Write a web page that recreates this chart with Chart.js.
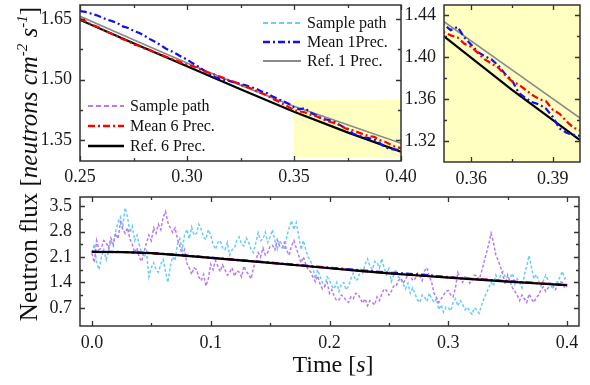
<!DOCTYPE html>
<html><head><meta charset="utf-8">
<script src="https://cdn.jsdelivr.net/npm/chart.js@4.4.1/dist/chart.umd.min.js"></script>
<style>
html,body{margin:0;padding:0;background:#fff;width:590px;height:385px;overflow:hidden;font-family:"Liberation Serif","Times New Roman",serif;color:#111;}
canvas{position:absolute;left:0;top:0;}
.row{position:absolute;height:20px;display:flex;align-items:center;font-size:16px;white-space:nowrap;}
.row svg{margin-right:5px;}
#ytitle{position:absolute;width:340px;height:30px;line-height:30px;left:-141px;top:149px;transform:rotate(-90deg);text-align:center;font-size:25px;white-space:nowrap;}
#ytitle sup{font-size:15px;font-style:italic;vertical-align:10px;line-height:0;}
#xtitle{position:absolute;left:233px;width:200px;top:352px;line-height:24px;text-align:center;font-size:24px;}
</style></head>
<body>
<canvas id="c1" width="590" height="385"></canvas>
<canvas id="c2" width="590" height="385"></canvas>
<canvas id="c3" width="590" height="385"></canvas>

<div class="row" style="left:262px;top:13px"><svg width="40" height="8"><line x1="1" y1="4" x2="39" y2="4" stroke="#6ccbf8" stroke-width="2" stroke-dasharray="5,3"/></svg>Sample path</div>
<div class="row" style="left:262px;top:32px"><svg width="40" height="8"><line x1="1" y1="4" x2="39" y2="4" stroke="#1010f0" stroke-width="2.5" stroke-dasharray="7,3,2,3"/></svg>Mean 1Prec.</div>
<div class="row" style="left:262px;top:51px"><svg width="40" height="8"><line x1="1" y1="4" x2="39" y2="4" stroke="#8a8a8a" stroke-width="2"/></svg>Ref. 1 Prec.</div>

<div class="row" style="left:87px;top:96px"><svg width="38" height="8"><line x1="1" y1="4" x2="37" y2="4" stroke="#b57bf7" stroke-width="2" stroke-dasharray="5,3"/></svg>Sample path</div>
<div class="row" style="left:87px;top:116px"><svg width="38" height="8"><line x1="1" y1="4" x2="37" y2="4" stroke="#ff0000" stroke-width="2.5" stroke-dasharray="7,3,2,3"/></svg>Mean 6 Prec.</div>
<div class="row" style="left:87px;top:136px"><svg width="38" height="8"><line x1="1" y1="4" x2="37" y2="4" stroke="#000" stroke-width="2.5"/></svg>Ref. 6 Prec.</div>

<div id="ytitle">Neutron flux [<i>neutrons cm</i><sup>-2</sup> <i>s</i><sup>-1</sup>]</div>
<div id="xtitle">Time [<i>s</i>]</div>

<script>
// ---------- data ----------
const refT  = [0,0.025,0.05,0.075,0.1,0.125,0.15,0.175,0.2,0.225,0.25,0.275,0.3,0.325,0.35,0.375,0.4];
const ref6  = [2.24,2.235,2.205,2.145,2.075,2.005,1.935,1.865,1.79,1.716,1.648,1.590,1.533,1.476,1.420,1.369,1.321];
const ref1  = [2.245,2.24,2.21,2.151,2.082,2.013,1.944,1.874,1.800,1.727,1.657,1.599,1.541,1.486,1.434,1.388,1.342];

const earlyT = [0,0.025,0.05,0.075,0.1,0.125,0.15,0.175,0.2,0.225];
const mean1Early = [2.245,2.24,2.212,2.153,2.085,2.017,1.948,1.880,1.808,1.738];
const mean6Early = [2.24,2.236,2.204,2.143,2.074,2.006,1.936,1.866,1.792,1.718];

const lateStart = 0.25, lateStep = 0.0025;
const mean6Late = [1.650,1.645,1.637,1.632,1.626,1.619,1.613,1.608,1.600,1.596,
  1.587,1.584,1.577,1.574,1.567,1.563,1.557,1.552,1.547,1.542,
  1.537,1.533,1.529,1.522,1.517,1.513,1.508,1.503,1.497,1.494,
  1.487,1.482,1.478,1.471,1.466,1.461,1.452,1.446,1.439,1.432,
  1.424,1.421,1.419,1.413,1.410,1.404,1.398,1.394,1.390,1.383,
  1.377,1.374,1.369,1.364,1.360,1.358,1.350,1.346,1.339,1.333,1.330];
const mean1Late = [1.670,1.668,1.664,1.660,1.655,1.649,1.645,1.640,1.632,1.628,
  1.621,1.616,1.609,1.601,1.594,1.586,1.577,1.571,1.564,1.556,
  1.550,1.541,1.533,1.524,1.515,1.507,1.503,1.499,1.496,1.493,
  1.489,1.486,1.481,1.477,1.470,1.466,1.458,1.452,1.446,1.440,
  1.431,1.426,1.429,1.419,1.412,1.405,1.401,1.398,1.392,1.384,
  1.378,1.366,1.361,1.357,1.355,1.351,1.343,1.332,1.328,1.326,1.325];

const pathStep = 0.002;
const pathCyan = [
  2.22,2.45,1.94,1.75,2.10,2.30,2.03,2.25,2.55,2.40,2.80,3.05,3.20,2.95,3.45,3.20,2.77,2.95,2.55,2.70,
  2.42,2.20,2.10,2.25,1.55,1.80,1.94,1.75,1.68,1.90,2.03,1.70,1.40,1.85,2.10,2.00,2.45,2.60,2.30,2.70,
  2.86,2.60,2.92,2.70,2.75,3.00,2.86,2.65,2.58,2.85,2.70,2.45,2.31,2.50,2.55,2.35,2.30,2.50,2.15,2.30,
  2.35,2.55,2.65,2.45,2.40,2.62,2.50,2.30,2.22,2.50,2.77,2.55,2.60,2.78,2.50,2.65,2.85,2.55,2.31,2.55,
  2.45,2.30,2.65,2.90,3.10,2.85,3.05,2.70,2.30,2.55,2.31,2.10,2.00,1.80,1.50,1.75,1.57,1.40,1.30,1.55,
  1.45,1.30,1.22,1.40,1.15,1.35,1.40,1.20,1.30,1.50,1.65,1.45,1.50,1.75,1.66,1.90,2.05,1.85,1.75,1.98,
  1.95,1.80,2.05,1.80,1.62,1.78,1.42,1.60,1.75,1.55,1.50,1.35,1.22,1.38,1.10,1.25,1.08,0.92,0.85,1.05,
  1.00,0.88,1.10,0.95,0.85,0.95,0.65,0.78,0.58,0.72,0.70,0.62,0.84,0.95,0.75,0.90,0.80,0.65,0.72,0.60,
  0.52,0.70,0.64,0.55,0.78,0.95,1.10,1.25,1.40,1.30,1.60,1.45,1.58,1.70,1.55,1.40,1.52,1.65,1.35,1.50,
  1.40,1.25,1.60,1.85,2.14,1.80,1.50,1.62,1.45,1.30,1.45,1.60,1.45,1.30,1.25,1.42,1.40,1.55,1.70,1.50,
  1.58];
const pathPurple = [
  2.20,1.95,2.55,2.30,2.35,2.55,2.50,2.35,2.62,2.45,2.75,2.60,3.05,2.85,2.75,2.90,2.59,2.45,2.22,2.35,
  2.08,1.98,2.25,2.50,2.70,2.55,2.90,2.75,3.00,2.85,3.20,3.35,3.05,2.90,2.77,2.90,2.60,2.40,2.15,2.30,
  1.92,1.80,1.62,1.80,1.75,1.55,1.45,1.62,1.30,1.50,1.90,1.75,2.00,1.85,1.70,1.88,1.75,1.60,1.68,1.80,
  1.57,1.72,1.68,1.55,1.85,1.70,1.62,1.50,1.80,2.00,2.22,2.10,2.35,2.15,2.22,2.40,2.42,2.30,2.57,2.40,
  2.35,2.50,2.28,2.15,2.40,2.55,2.35,2.15,1.94,2.10,1.90,1.75,1.70,1.55,1.42,1.58,1.36,1.22,1.29,1.40,
  1.10,1.20,1.02,0.90,0.92,1.05,1.00,0.90,0.85,1.00,0.95,1.10,1.08,0.95,0.83,0.95,0.76,0.90,0.85,0.78,
  1.00,0.90,1.08,1.22,1.18,1.05,1.15,1.30,1.29,1.45,1.52,1.38,1.48,1.62,1.60,1.45,1.50,1.65,1.57,1.45,
  1.72,1.80,1.57,1.40,1.10,0.98,0.85,0.95,1.05,1.15,1.18,1.05,1.00,1.25,1.67,1.50,1.40,1.55,1.56,1.38,
  1.45,1.60,1.58,1.48,1.70,1.95,2.20,2.45,2.75,2.50,2.15,2.00,1.82,1.60,1.35,1.60,1.42,1.25,1.15,1.05,
  0.90,1.05,0.95,0.85,1.08,0.95,0.85,0.98,1.05,1.20,1.28,1.15,1.25,1.38,1.32,1.20,1.30,1.42,1.40,1.25,
  1.30];

const topXTicks = [0.25,0.30,0.35,0.40], topXMinor = [0.275,0.325,0.375];
const topYTicks = [1.35,1.50,1.65], topYMinor = [1.425,1.575];
const insetX = [0.35,0.40], insetY = [1.30,1.45];
const insetXTicks = [0.36,0.39], insetXMinor = [0.375];
const insetYTicks = [1.32,1.36,1.40,1.44], insetYMinor = [1.34,1.38,1.42];
const botXTicks = [0,0.1,0.2,0.3,0.4], botXMinor = [0.05,0.15,0.25,0.35];
const botYTicks = [0.7,1.4,2.1,2.8,3.5], botYMinor = [1.05,1.75,2.45,3.15];

// ---------- build ----------
Chart.defaults.font.family = 'Liberation Serif';
const pts = (ts, vs) => vs.map((v,i)=>({x:ts[i], y:v}));
const lateT = mean6Late.map((_,i)=>+(lateStart + i*lateStep).toFixed(4));
const meanT = earlyT.concat(lateT);
const mean1 = mean1Early.concat(mean1Late);
const mean6 = mean6Early.concat(mean6Late);
const pathT = pathCyan.map((_,i)=>+(i*pathStep).toFixed(4));

const C = {cyan:'#6ccbf8', purple:'#b57bf7', blue:'#1010f0', red:'#ff0000', gray:'#8a8a8a', black:'#000', yellow:'#ffffc2'};
const FONT = {family:'Liberation Serif', size:18};

const frame = {
  id:'frame',
  beforeDatasetsDraw(chart, args, o){
    const {ctx, chartArea:a, scales:{x,y}} = chart;
    if (o.fillAll){ ctx.save(); ctx.fillStyle=C.yellow; ctx.fillRect(a.left,a.top,a.right-a.left,a.bottom-a.top); ctx.restore(); }
    if (o.zoomBox){
      const [x0,x1] = o.zoomBox.x, [y0,y1] = o.zoomBox.y;
      const px0=x.getPixelForValue(x0), px1=x.getPixelForValue(x1), py0=y.getPixelForValue(y0), py1=y.getPixelForValue(y1);
      ctx.save(); ctx.fillStyle=C.yellow; ctx.fillRect(px0,py1,px1-px0,py0-py1-2); ctx.restore();
    }
  },
  afterDatasetsDraw(chart, args, o){
    const {ctx, chartArea:a, scales:{x,y}} = chart;
    ctx.save();
    ctx.strokeStyle='#333'; ctx.lineWidth=1.3;
    ctx.beginPath();
    const xt=(vals,len)=>vals.forEach(v=>{const p=Math.round(x.getPixelForValue(v))+0.5; ctx.moveTo(p,a.bottom); ctx.lineTo(p,a.bottom-len); ctx.moveTo(p,a.top); ctx.lineTo(p,a.top+len);});
    const yt=(vals,len)=>vals.forEach(v=>{const p=Math.round(y.getPixelForValue(v))+0.5; ctx.moveTo(a.left,p); ctx.lineTo(a.left+len,p); ctx.moveTo(a.right,p); ctx.lineTo(a.right-len,p);});
    xt(o.xMajor,5); xt(o.xMinor,3); yt(o.yMajor,5); yt(o.yMinor,3);
    ctx.stroke();
    ctx.lineWidth=1.5;
    ctx.strokeRect(a.left,a.top,a.right-a.left,a.bottom-a.top);
    ctx.restore();
  }
};

function scales(xr, yr, xT, yT, xDig, yDig, yW, xPad){
  return {
    x:{type:'linear', min:xr[0], max:xr[1], border:{display:false}, grid:{display:false, drawTicks:false},
       afterBuildTicks:s=>{s.ticks=xT.map(v=>({value:v}));},
       afterFit:s=>{s.height=30; s.paddingLeft=0; s.paddingRight=0;},
       ticks:{font:FONT, color:'#1a1a1a', padding:xPad, maxRotation:0, autoSkip:false, callback:v=>(+v).toFixed(xDig)}},
    y:{type:'linear', min:yr[0], max:yr[1], border:{display:false}, grid:{display:false, drawTicks:false},
       afterBuildTicks:s=>{s.ticks=yT.map(v=>({value:v}));},
       afterFit:s=>{s.width=yW; s.paddingTop=0; s.paddingBottom=0;},
       ticks:{font:FONT, color:'#1a1a1a', padding:8, autoSkip:false, callback:v=>(+v).toFixed(yDig)}}
  };
}

const base = {responsive:false, animation:false, events:[], plugins:{legend:{display:false}, tooltip:{enabled:false}}, elements:{point:{radius:0}}};

function ds(label, data, color, width, dash){
  return {label, data, borderColor:color, borderWidth:width, borderDash:dash||[], pointRadius:0, fill:false, tension:0};
}

function upperSets(){
  return [
    ds('Mean 6 Prec.', pts(meanT,mean6), C.red, 2.2, [7,3,2,3]),
    ds('Mean 1Prec.', pts(meanT,mean1), C.blue, 2.2, [7,3,2,3]),
    ds('Ref. 6 Prec.', pts(refT,ref6), C.black, 2.2),
    ds('Ref. 1 Prec.', pts(refT,ref1), C.gray, 1.6),
  ];
}

new Chart(document.getElementById('c1'), {type:'line', data:{datasets:upperSets()},
  options:Object.assign({}, base, {layout:{padding:{left:30, right:189, top:5, bottom:194}},
    scales:scales([0.25,0.40],[1.298,1.685],topXTicks,topYTicks,2,2,50,5),
    plugins:Object.assign({}, base.plugins, {frame:{xMajor:topXTicks,xMinor:topXMinor,yMajor:topYTicks,yMinor:topYMinor, zoomBox:{x:insetX,y:insetY}}})}),
  plugins:[frame]});

new Chart(document.getElementById('c2'), {type:'line', data:{datasets:upperSets()},
  options:Object.assign({}, base, {layout:{padding:{left:400, right:10, top:5, bottom:193}},
    scales:scales(insetX,insetY,insetXTicks,insetYTicks,2,2,44,6),
    plugins:Object.assign({}, base.plugins, {frame:{xMajor:insetXTicks,xMinor:insetXMinor,yMajor:insetYTicks,yMinor:insetYMinor, fillAll:true}})}),
  plugins:[frame]});

new Chart(document.getElementById('c3'), {type:'line', data:{datasets:[
    ds('Ref. 6 Prec.', pts(refT,ref6), C.black, 2.2),
    ds('Mean 6 Prec.', pts(meanT,mean6), C.red, 2, [7,3,2,3]),
    ds('Mean 1Prec.', pts(meanT,mean1), C.blue, 2, [7,3,2,3]),
    ds('Ref. 1 Prec.', pts(refT,ref1), C.gray, 1.5),
    ds('Sample path 6', pts(pathT,pathPurple), C.purple, 1.5, [3,2]),
    ds('Sample path 1', pts(pathT,pathCyan), C.cyan, 1.5, [3,2]),
  ]},
  options:Object.assign({}, base, {layout:{padding:{left:36, right:11, top:197, bottom:29}},
    scales:scales([-0.01,0.41],[0.2,3.75],botXTicks,botYTicks,1,1,44,6),
    plugins:Object.assign({}, base.plugins, {frame:{xMajor:botXTicks,xMinor:botXMinor,yMajor:botYTicks,yMinor:botYMinor}})}),
  plugins:[frame]});
</script>
</body></html>
